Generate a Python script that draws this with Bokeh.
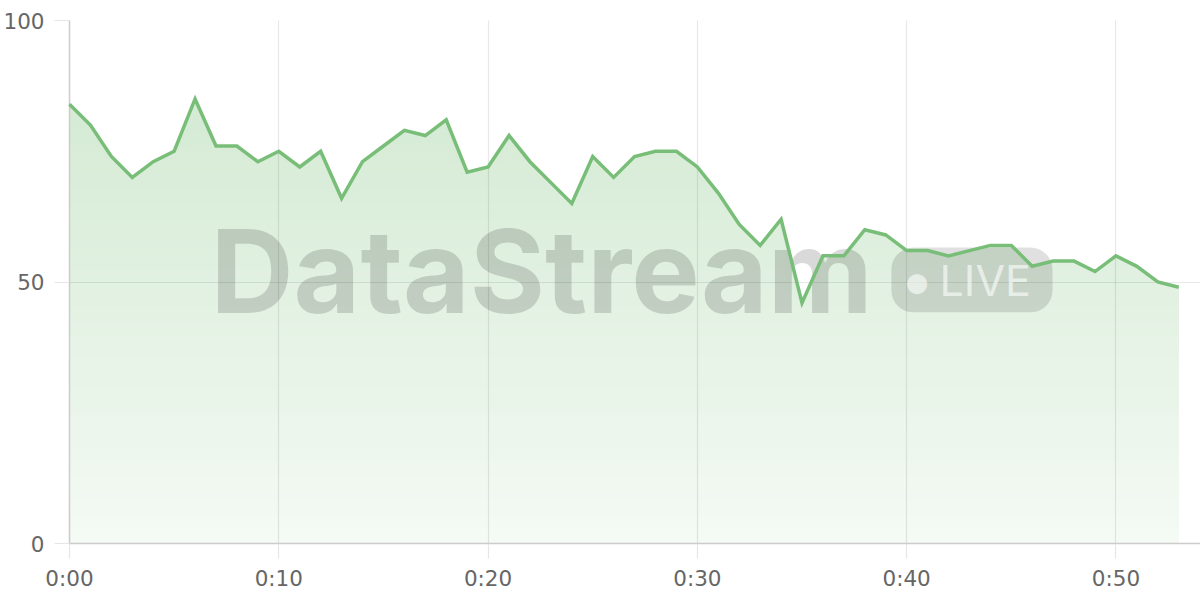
import numpy as np
from bokeh.plotting import figure
from bokeh.models import Range1d, FixedTicker, Label, BoxAnnotation
from bokeh.embed import file_html
from bokeh.resources import INLINE

# ---- data ----
minutes = list(range(54))
values = [84, 80, 74, 70, 73, 75, 85, 76, 76, 73,
          75, 72, 75, 66, 73, 76, 79, 78, 81, 71,
          72, 78, 73, 69, 65, 74, 70, 74, 75, 75,
          72, 67, 61, 57, 62, 46, 55, 55, 60, 59,
          56, 56, 55, 56, 57, 57, 53, 54, 54, 52,
          55, 53, 50, 49]
x_ticks = [0, 10, 20, 30, 40, 50]
x_tick_labels = ["0:00", "0:10", "0:20", "0:30", "0:40", "0:50"]
y_ticks = [0, 50, 100]

GREEN = (120, 190, 120)
GREEN_HEX = "#78be78"
LABEL_FONT = "DejaVu Sans"

p = figure(width=1200, height=600, output_backend="svg", toolbar_location=None,
           x_range=Range1d(0, 54.04), y_range=Range1d(0, 100),
           min_border_left=69, min_border_right=0, min_border_top=20, min_border_bottom=57)
p.outline_line_color = None
p.background_fill_color = "white"

# axes
p.xaxis.ticker = FixedTicker(ticks=x_ticks)
p.xaxis.major_label_overrides = {t: l for t, l in zip(x_ticks, x_tick_labels)}
p.yaxis.ticker = FixedTicker(ticks=y_ticks)
for ax in (p.xaxis, p.yaxis):
    ax.major_label_text_font = LABEL_FONT
    ax.major_label_text_font_size = "21.5px"
    ax.major_label_text_color = "#666666"
    ax.minor_tick_line_color = None
    ax.major_tick_in = 0
    ax.major_tick_out = 15
    ax.major_tick_line_color = "#e6e6e6"
    ax.major_tick_line_width = 1.2
    ax.axis_line_color = "#cccccc"
    ax.axis_line_width = 1.5
p.xaxis.major_label_standoff = 7
p.yaxis.major_label_standoff = 10
for g in (p.xgrid, p.ygrid):
    g.grid_line_color = "black"
    g.grid_line_alpha = 0.09
    g.grid_line_width = 1.2
    g.level = "guide"
p.xgrid.ticker = FixedTicker(ticks=x_ticks)
p.ygrid.ticker = FixedTicker(ticks=y_ticks)

# gradient area: opaque layers from bottom to top, each from its level up to the line
v = np.array(values, dtype=float)
top = v.max()
n_layers = 60
levels = np.linspace(0, top, n_layers + 1)[:-1]
for lvl in levels:
    a = 0.08 + (0.32 - 0.08) * (lvl / top)
    c = tuple(int(round(255 - (255 - ch) * a)) for ch in GREEN)
    p.varea(x=minutes, y1=np.minimum(lvl, v), y2=v,
            fill_color="#%02x%02x%02x" % c, fill_alpha=1.0)

# watermark
p.add_layout(Label(x=6.74, y=52.0, text="DataStream", text_font="Inter",
                   text_font_style="bold", text_font_size="115px",
                   text_color="black", text_alpha=0.15, text_baseline="alphabetic"))
p.add_layout(BoxAnnotation(left=39.27, right=46.97, bottom=44.2, top=56.6,
                           fill_color="black", fill_alpha=0.12, line_color=None,
                           border_radius=22))
p.add_layout(Label(x=40.5, y=49.96, text="●", text_font="DejaVu Sans",
                   text_font_size="26px", text_color="white", text_alpha=0.6,
                   text_align="center", text_baseline="middle"))
p.add_layout(Label(x=41.57, y=50.3, text="LIVE", text_font="Inter",
                   text_font_size="43px", text_color="white", text_alpha=0.6,
                   text_baseline="alphabetic"))

# line on top
r = p.line(minutes, values, line_color=GREEN_HEX, line_width=3.5, line_join="miter")
r.level = "overlay"

open("out.html", "w").write(file_html(p, INLINE))
